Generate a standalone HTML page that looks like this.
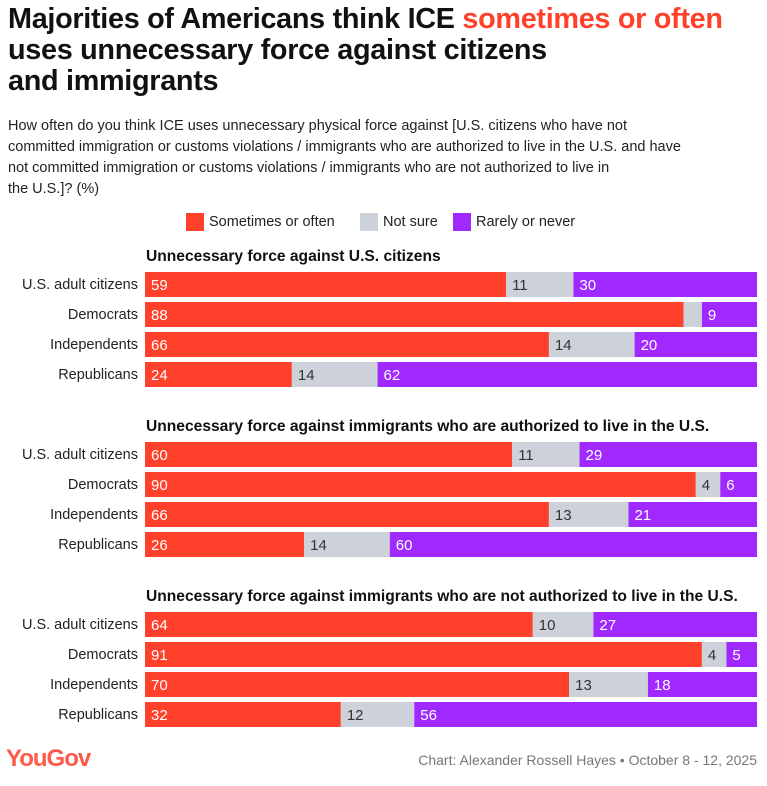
<!DOCTYPE html>
<html><head><meta charset="utf-8"><style>
body{margin:0;width:767px;height:786px;background:#fff;font-family:"Liberation Sans",sans-serif;position:relative;overflow:hidden}
.t{position:absolute;left:8px;top:4px;font-size:28.8px;font-weight:bold;line-height:31px;color:#111;letter-spacing:-0.3px}
.t span{color:#ff412c}
.sub{position:absolute;left:8px;top:116px;white-space:nowrap;font-size:14.5px;line-height:21px;color:#222}
.leg{position:absolute;top:213px;font-size:14.5px;color:#222;display:flex;align-items:center}
.leg i{display:inline-block;width:18px;height:18px;margin-right:5px}
svg{position:absolute;left:0;top:0}
.foot{position:absolute;right:10px;top:752px;font-size:14px;color:#777}
.logo{position:absolute;left:6px;top:745px;font-size:24px;color:#ff5a4a;font-weight:bold;letter-spacing:-1px}
</style></head><body>
<div class="t">Majorities of Americans think ICE <span>sometimes or often</span><br>uses unnecessary force against citizens<br>and immigrants</div>
<div class="sub">How often do you think ICE uses unnecessary physical force against [U.S. citizens who have not<br>committed immigration or customs violations / immigrants who are authorized to live in the U.S. and have<br>not committed immigration or customs violations / immigrants who are not authorized to live in<br>the U.S.]? (%)</div>
<div class="leg" style="left:186px"><i style="background:#ff412c"></i>Sometimes or often</div>
<div class="leg" style="left:360px"><i style="background:#cdd1da"></i>Not sure</div>
<div class="leg" style="left:453px"><i style="background:#9f29ff"></i>Rarely or never</div>
<svg id="c" width="767" height="786"></svg>
<div class="logo">YouGov</div>
<div class="foot">Chart: Alexander Rossell Hayes • October 8 - 12, 2025</div>
<script>
const panelTitles=["Unnecessary force against U.S. citizens","Unnecessary force against immigrants who are authorized to live in the U.S.","Unnecessary force against immigrants who are not authorized to live in the U.S."];
const groups=["U.S. adult citizens","Democrats","Independents","Republicans"];
const sometimes=[[59,88,66,24],[60,90,66,26],[64,91,70,32]];
const notSure=[[11,3,14,14],[11,4,13,14],[10,4,13,12]];
const rarely=[[30,9,20,62],[29,6,21,60],[27,5,18,56]];
const notSureShown=[[true,false,true,true],[true,true,true,true],[true,true,true,true]];
const NS="http://www.w3.org/2000/svg",svg=document.getElementById('c');
const x0=145,W=612,x=v=>x0+v/100*W;
function el(t,a,txt){const e=document.createElementNS(NS,t);for(const k in a)e.setAttribute(k,a[k]);if(txt!=null)e.textContent=txt;svg.appendChild(e);return e;}
const cols=["#ff412c","#cdd1da","#9f29ff"];
panelTitles.forEach((pt,p)=>{
  const py=272+p*170;
  const tt=el('text',{x:146,y:py-11,'font-size':15.6,'font-weight':'bold',fill:'#111'},pt);
  
  
  groups.forEach((g,i)=>{
    const y=py+i*30;
    const lb=el('text',{x:138,y:y+17,'font-size':14.5,fill:'#222','text-anchor':'end'},g);
    
    
    const vals=[sometimes[p][i],notSure[p][i],rarely[p][i]];
    const total=vals[0]+vals[1]+vals[2];
    let acc=0;
    vals.forEach((v,k)=>{
      const a=acc/total*100,b=(acc+v)/total*100;acc+=v;
      const r=el('rect',{x:x(a),y:y,width:x(b)-x(a),height:25,fill:cols[k]});
      
      
      if(k===1&&!notSureShown[p][i])return;
      const t=el('text',{x:x(a)+6,y:y+18,'font-size':15,fill:k===1?'#333':'#fff'},v);
      
      
    });
  });
});
</script>
</body></html>
